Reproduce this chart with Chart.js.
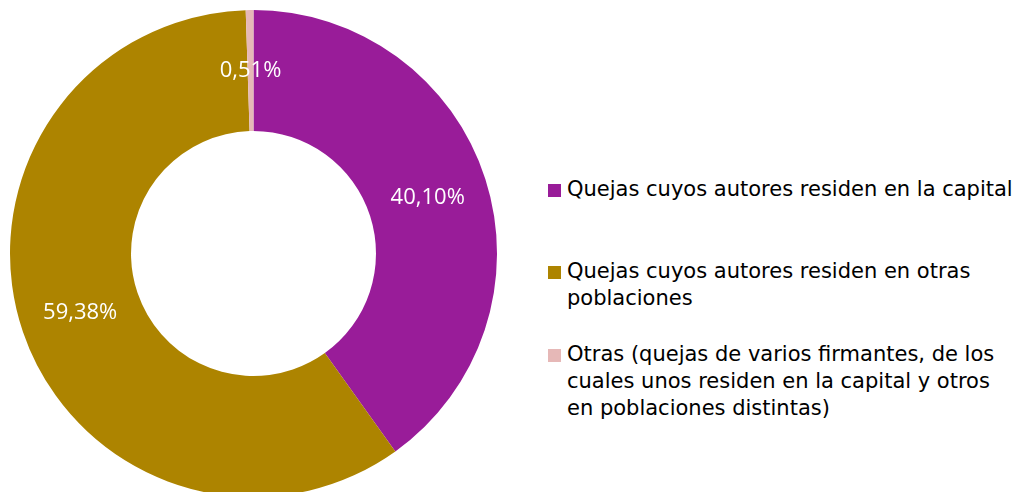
<!DOCTYPE html>
<html>
<head>
<meta charset="utf-8">
<script src="https://cdn.jsdelivr.net/npm/chart.js@4/dist/chart.umd.min.js"></script>
<style>
  html, body { margin: 0; padding: 0; background: #fff; overflow: hidden; }
  #wrap { position: relative; width: 1021px; height: 492px; }
  #donut { position: absolute; left: 0; top: 0; }
  #legend { position: absolute; left: 548px; top: 0; font-family: 'DejaVu Sans', sans-serif;
            font-size: 21px; color: #000; }
  .item { position: absolute; left: 0; white-space: pre; line-height: 27px; }
  .item i { position: absolute; left: 0; top: 8px; width: 13px; height: 13px; }
  .item span { position: absolute; left: 19px; top: 0; }
</style>
</head>
<body>
<div id="wrap">
  <canvas id="donut" width="507" height="507"></canvas>
  <div id="legend"></div>
</div>
<script>
// --- data ---
const labels = [
  'Quejas cuyos autores residen en la capital',
  'Quejas cuyos autores residen en otras\npoblaciones',
  'Otras (quejas de varios firmantes, de los\ncuales unos residen en la capital y otros\nen poblaciones distintas)',
];
const values = [40.10, 59.38, 0.51];
const valueText = ['40,10%', '59,38%', '0,51%'];
const colors = ['#991C99', '#AD8400', '#E6B8B7'];

// legend rows (top of each item, px)
const legendTops = [176, 258, 341];

const legend = document.getElementById('legend');
labels.forEach((lab, i) => {
  const d = document.createElement('div');
  d.className = 'item';
  d.style.top = legendTops[i] + 'px';
  d.innerHTML = `<i style="background:${colors[i]}"></i><span></span>`;
  d.querySelector('span').textContent = lab;
  legend.appendChild(d);
});

// draws value labels at the middle of each arc
const arcLabels = {
  id: 'arcLabels',
  afterDatasetsDraw(chart) {
    const { ctx } = chart;
    const meta = chart.getDatasetMeta(0);
    ctx.save();
    ctx.font = '22px "Open Sans", sans-serif';
    ctx.fillStyle = '#fff';
    ctx.textAlign = 'center';
    ctx.textBaseline = 'middle';
    meta.data.forEach((arc, i) => {
      const p = arc.tooltipPosition();
      ctx.fillText(valueText[i], p.x, p.y);
    });
    ctx.restore();
  }
};

new Chart(document.getElementById('donut'), {
  type: 'doughnut',
  data: {
    labels,
    datasets: [{
      data: values,
      backgroundColor: colors,
      borderWidth: 0,
    }],
  },
  options: {
    responsive: false,
    animation: false,
    cutout: '50.3%',
    layout: { padding: 10 },
    plugins: {
      legend: { display: false },
      tooltip: { enabled: false },
    },
  },
  plugins: [arcLabels],
});
</script>
</body>
</html>
